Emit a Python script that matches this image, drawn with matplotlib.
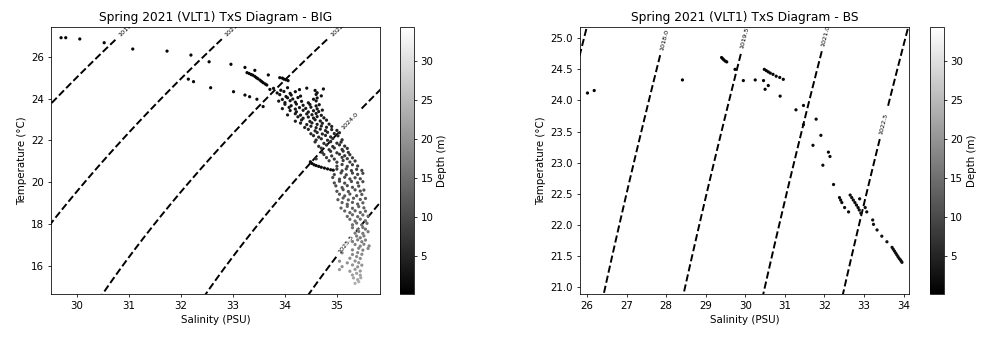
import numpy as np
import matplotlib
matplotlib.use("Agg")
import matplotlib.pyplot as plt

plt.rcParams["font.size"] = 10.5

# --- BIG station: surface points (salinity, temperature, depth)
big_surf_sal = [29.69, 29.78, 30.05, 30.52, 31.07, 31.73, 32.19, 32.54, 32.14, 32.24,
                32.57, 32.96, 33.01, 33.23, 33.23, 33.32, 33.42, 33.68, 33.46, 33.58,
                33.71, 33.27, 33.31, 33.35, 33.38, 33.42, 33.45, 33.48, 33.52, 33.55,
                33.58, 33.62, 33.65, 33.90, 33.95, 33.98, 34.02, 34.06]
big_surf_temp = [26.91, 26.91, 26.85, 26.67, 26.37, 26.27, 26.08, 25.76, 24.93, 24.81,
                 24.52, 25.64, 24.33, 25.49, 24.17, 24.09, 25.35, 25.13, 23.97, 23.62,
                 24.44, 25.24, 25.20, 25.15, 25.12, 25.06, 25.00, 24.95, 24.88, 24.82,
                 24.76, 24.70, 24.65, 25.00, 24.98, 24.93, 24.90, 24.86]
big_surf_depth = [0.5, 0.5, 0.6, 0.7, 0.8, 0.8, 0.9, 1.0, 1.0, 1.1,
                  1.2, 0.9, 1.3, 1.0, 1.4, 1.4, 1.0, 1.1, 1.5, 1.6,
                  1.3, 1.0, 1.0, 1.1, 1.1, 1.1, 1.2, 1.2, 1.2, 1.3,
                  1.3, 1.3, 1.4, 1.2, 1.2, 1.3, 1.3, 1.3]

# black near-surface curve around 21 degC
big_curve_sal = [34.49, 34.52, 34.56, 34.60, 34.65, 34.70, 34.76, 34.82, 34.88, 34.93]
big_curve_temp = [20.98, 20.90, 20.84, 20.80, 20.76, 20.72, 20.68, 20.64, 20.60, 20.58]
big_curve_depth = [1.5, 1.5, 1.6, 1.6, 1.7, 1.7, 1.8, 1.8, 1.9, 2.0]

# main cloud, one row per temperature band: salinities, temperatures, depth shade of the band
big_row_sal = [
    [33.78, 33.92, 34.05, 34.28, 34.42, 34.58, 34.74],
    [33.85, 33.98, 34.10, 34.20, 34.62],
    [33.90, 34.02, 34.12, 34.30, 34.60, 34.70],
    [33.95, 34.05, 34.15, 34.25, 34.55, 34.62],
    [33.88, 34.00, 34.10, 34.20, 34.32, 34.45, 34.60],
    [34.00, 34.12, 34.22, 34.35, 34.48, 34.60, 34.66],
    [33.95, 34.08, 34.20, 34.28, 34.40, 34.50, 34.62],
    [34.10, 34.22, 34.35, 34.45, 34.55, 34.65, 34.72],
    [34.05, 34.20, 34.30, 34.42, 34.52, 34.60, 34.70],
    [34.25, 34.35, 34.45, 34.55, 34.62, 34.75],
    [34.20, 34.32, 34.48, 34.58, 34.68, 34.80],
    [34.30, 34.42, 34.52, 34.62, 34.72, 34.85],
    [34.38, 34.50, 34.60, 34.70, 34.80, 34.90],
    [34.45, 34.58, 34.68, 34.78, 34.90, 35.00],
    [34.50, 34.62, 34.72, 34.82, 34.95, 35.05],
    [34.55, 34.65, 34.78, 34.88, 35.02],
    [34.60, 34.70, 34.82, 34.92, 35.10],
    [34.58, 34.75, 34.88, 35.00, 35.08],
    [34.65, 34.80, 34.92, 35.05, 35.15],
    [34.70, 34.85, 34.95, 35.10, 35.20],
    [34.72, 34.88, 35.00, 35.12, 35.22],
    [34.75, 34.90, 35.05, 35.15, 35.25],
    [34.60, 34.80, 34.95, 35.10, 35.20, 35.30],
    [34.85, 35.00, 35.12, 35.25, 35.35],
    [35.00, 35.10, 35.20, 35.30, 35.40],
    [35.00, 35.10, 35.18, 35.28, 35.38, 35.48],
    [34.95, 35.08, 35.18, 35.30, 35.40, 35.50],
    [34.92, 35.05, 35.15, 35.25, 35.35, 35.45],
    [34.95, 35.05, 35.15, 35.28, 35.40, 35.50],
    [34.98, 35.10, 35.20, 35.30, 35.42],
    [35.00, 35.12, 35.22, 35.35, 35.45, 35.52],
    [35.05, 35.15, 35.25, 35.38, 35.48],
    [35.02, 35.12, 35.22, 35.32, 35.45, 35.55],
    [35.10, 35.20, 35.30, 35.40, 35.50],
    [35.08, 35.20, 35.30, 35.42, 35.52],
    [35.15, 35.25, 35.35, 35.45, 35.55],
    [35.20, 35.30, 35.40, 35.50, 35.60],
    [35.25, 35.35, 35.45, 35.55],
    [35.30, 35.38, 35.48, 35.58],
    [35.30, 35.40, 35.50, 35.55],
    [35.35, 35.42, 35.50, 35.60],
    [35.38, 35.45, 35.52],
    [35.30, 35.40, 35.48, 35.55],
    [35.35, 35.45, 35.52, 35.62],
    [35.30, 35.42, 35.50, 35.60],
    [35.10, 35.30, 35.40, 35.48],
    [35.25, 35.38, 35.45],
    [35.05, 35.20, 35.35, 35.42],
    [35.10, 35.30, 35.40, 35.48],
    [35.05, 35.25, 35.35, 35.45],
    [35.30, 35.38, 35.45],
    [35.32, 35.40, 35.46],
    [35.35, 35.42],
]
big_row_temp = [
    [24.49, 24.40, 24.52, 24.43, 24.50, 24.39, 24.46],
    [24.27, 24.34, 24.25, 24.33, 24.28],
    [24.19, 24.10, 24.17, 24.12, 24.20, 24.13],
    [23.96, 24.04, 23.98, 24.05, 23.97, 24.03],
    [23.88, 23.81, 23.90, 23.83, 23.87, 23.80, 23.89],
    [23.73, 23.66, 23.74, 23.68, 23.72, 23.65, 23.71],
    [23.52, 23.58, 23.50, 23.57, 23.53, 23.59, 23.51],
    [23.43, 23.37, 23.44, 23.36, 23.42, 23.38, 23.45],
    [23.22, 23.28, 23.21, 23.27, 23.23, 23.29, 23.20],
    [23.13, 23.06, 23.12, 23.07, 23.14, 23.08],
    [22.92, 22.98, 22.91, 22.99, 22.93, 22.97],
    [22.83, 22.76, 22.84, 22.77, 22.82, 22.78],
    [22.62, 22.68, 22.61, 22.69, 22.63, 22.67],
    [22.53, 22.46, 22.54, 22.47, 22.52, 22.48],
    [22.32, 22.38, 22.31, 22.39, 22.33, 22.37],
    [22.23, 22.16, 22.24, 22.17, 22.22],
    [22.02, 22.08, 22.01, 22.09, 22.03],
    [21.93, 21.86, 21.94, 21.87, 21.92],
    [21.72, 21.78, 21.71, 21.79, 21.73],
    [21.63, 21.56, 21.64, 21.57, 21.62],
    [21.42, 21.48, 21.41, 21.49, 21.43],
    [21.33, 21.26, 21.34, 21.27, 21.32],
    [21.12, 21.18, 21.11, 21.19, 21.13, 21.17],
    [21.03, 20.96, 21.04, 20.97, 21.02],
    [20.77, 20.85, 20.76, 20.84, 20.78],
    [20.63, 20.55, 20.64, 20.56, 20.62, 20.57],
    [20.37, 20.45, 20.36, 20.44, 20.38, 20.43],
    [20.23, 20.15, 20.24, 20.16, 20.22, 20.17],
    [19.97, 20.05, 19.96, 20.04, 19.98, 20.03],
    [19.83, 19.75, 19.84, 19.76, 19.82],
    [19.57, 19.65, 19.56, 19.64, 19.58, 19.63],
    [19.43, 19.35, 19.44, 19.36, 19.42],
    [19.17, 19.25, 19.16, 19.24, 19.18, 19.23],
    [19.03, 18.95, 19.04, 18.96, 19.02],
    [18.77, 18.85, 18.76, 18.84, 18.78],
    [18.63, 18.55, 18.64, 18.56, 18.62],
    [18.37, 18.45, 18.36, 18.44, 18.38],
    [18.23, 18.15, 18.24, 18.16],
    [17.97, 18.05, 17.96, 18.04],
    [17.83, 17.75, 17.84, 17.76],
    [17.57, 17.65, 17.56, 17.64],
    [17.43, 17.35, 17.44],
    [17.17, 17.25, 17.16, 17.24],
    [17.03, 16.95, 17.04, 16.96],
    [16.77, 16.85, 16.76, 16.84],
    [16.63, 16.55, 16.64, 16.56],
    [16.37, 16.45, 16.36],
    [16.23, 16.15, 16.24, 16.16],
    [15.97, 16.05, 15.96, 16.04],
    [15.83, 15.75, 15.84, 15.76],
    [15.57, 15.65, 15.56],
    [15.43, 15.35, 15.44],
    [15.17, 15.25],
]
big_row_depth = [2.0, 2.2, 2.4, 2.6, 2.8, 3.0, 3.2, 3.4, 3.6, 3.8,
                 4.0, 4.3, 4.6, 5.0, 5.3, 5.6, 6.0, 6.3, 6.6, 7.0,
                 7.3, 7.6, 8.0, 8.3, 8.7, 9.0, 9.4, 9.8, 10.2, 10.6,
                 11.0, 11.5, 12.0, 12.5, 13.0, 13.5, 14.0, 14.5, 15.0, 15.5,
                 16.0, 16.5, 17.0, 17.5, 18.0, 18.5, 19.0, 19.5, 20.0, 20.5,
                 21.5, 22.5, 23.5]

# --- BS station
bs_sal = [26.01, 26.18, 28.41, 29.40, 29.43, 29.46, 29.50, 29.53, 29.74, 29.95,
          30.25, 30.46, 30.50, 30.58, 30.48, 30.53, 30.58, 30.63, 30.70, 30.78,
          30.87, 30.96, 30.88, 31.28, 31.47, 31.47, 31.79, 31.91, 31.71, 32.10,
          32.14, 31.96, 32.23, 32.38, 32.41, 32.44, 32.51, 32.61, 32.65, 32.69,
          32.73, 32.77, 32.81, 32.85, 32.88, 32.92, 32.89, 33.03, 33.07, 33.22,
          33.24, 33.33, 33.45, 33.58, 33.71, 33.74, 33.77, 33.80, 33.83, 33.86,
          33.89, 33.92, 33.94, 33.96]
bs_temp = [24.12, 24.16, 24.33, 24.69, 24.67, 24.65, 24.63, 24.62, 24.50, 24.32,
           24.33, 24.32, 24.18, 24.24, 24.50, 24.48, 24.46, 24.44, 24.42, 24.39,
           24.37, 24.34, 24.07, 23.85, 23.92, 23.61, 23.70, 23.44, 23.28, 23.17,
           23.10, 22.96, 22.65, 22.44, 22.40, 22.36, 22.28, 22.21, 22.48, 22.44,
           22.40, 22.36, 22.32, 22.28, 22.24, 22.19, 22.42, 22.28, 22.21, 22.08,
           22.01, 21.92, 21.82, 21.73, 21.64, 21.61, 21.58, 21.55, 21.52, 21.49,
           21.46, 21.44, 21.42, 21.40]
bs_depth = [0.5, 0.5, 0.6, 0.6, 0.6, 0.7, 0.7, 0.7, 0.8, 0.8,
            0.8, 0.9, 0.9, 0.9, 0.8, 0.8, 0.9, 0.9, 0.9, 1.0,
            1.0, 1.0, 1.0, 1.1, 1.1, 1.2, 1.2, 1.3, 1.3, 1.4,
            1.4, 1.4, 1.5, 1.6, 1.6, 1.6, 1.7, 1.7, 1.6, 1.6,
            1.7, 1.7, 1.7, 1.8, 1.8, 1.8, 1.7, 1.8, 1.8, 1.9,
            1.9, 2.0, 2.0, 2.1, 2.2, 2.2, 2.2, 2.3, 2.3, 2.3,
            2.4, 2.4, 2.4, 2.5]

depth_min, depth_max = 0.1, 34.3
dens_levels = np.arange(1015.0, 1028.0, 1.5)


def dens0(S, T):
    # UNESCO 1983 density of seawater at p=0, with a small salinity correction
    # so it lines up with the TEOS-10 style isopycnals of the original
    S = S - 0.02 * (S - 26.0)
    rw = (999.842594 + 6.793952e-2 * T - 9.095290e-3 * T**2 + 1.001685e-4 * T**3
          - 1.120083e-6 * T**4 + 6.536332e-9 * T**5)
    A = 8.24493e-1 - 4.0899e-3 * T + 7.6438e-5 * T**2 - 8.2467e-7 * T**3 + 5.3875e-9 * T**4
    B = -5.72466e-3 + 1.0227e-4 * T - 1.6546e-6 * T**2
    C = 4.8314e-4
    return rw + A * S + B * S**1.5 + C * S**2


big_sal = list(big_surf_sal) + list(big_curve_sal)
big_temp = list(big_surf_temp) + list(big_curve_temp)
big_depth = list(big_surf_depth) + list(big_curve_depth)
for srow, trow, d in zip(big_row_sal, big_row_temp, big_row_depth):
    big_sal += srow
    big_temp += trow
    big_depth += [d] * len(srow)

dpi = 70
fig = plt.figure(figsize=(986 / dpi, 338 / dpi), dpi=dpi)

panels = [
    dict(sal=big_sal, temp=big_temp, depth=big_depth, name="BIG",
         ax=[0.0514, 0.130, 0.334, 0.790], cax=[0.4057, 0.130, 0.0139, 0.790],
         xlim=(29.49, 35.83), ylim=(14.66, 27.42),
         grid_s=(28.5, 37.0), grid_t=(13.5, 28.5),
         labels=[(30.88, 27.56), (32.94, 27.56), (34.96, 27.56), (35.18, 23.07), (35.15, 17.10)]),
    dict(sal=bs_sal, temp=bs_temp, depth=bs_depth, name="BS",
         ax=[0.588, 0.130, 0.334, 0.790], cax=[0.943, 0.130, 0.0139, 0.790],
         xlim=(25.815, 34.14), ylim=(20.89, 25.18),
         grid_s=(25.0, 35.0), grid_t=(20.5, 26.0),
         labels=[(27.94, 24.98), (29.99, 25.0), (32.05, 25.04), (33.44, 23.64)]),
]

for p in panels:
    ax = fig.add_axes(p["ax"])
    cax = fig.add_axes(p["cax"])
    ss = np.linspace(p["grid_s"][0], p["grid_s"][1], 200)
    tt = np.linspace(p["grid_t"][0], p["grid_t"][1], 200)
    SS, TT = np.meshgrid(ss, tt)
    cs = ax.contour(SS, TT, dens0(SS, TT), levels=dens_levels, colors="k",
                    linestyles="dashed", linewidths=2.0)
    sc = ax.scatter(p["sal"], p["temp"], c=p["depth"], cmap="gray", s=11,
                    vmin=depth_min, vmax=depth_max, edgecolors="none", zorder=3)
    ax.set_xlim(*p["xlim"])
    ax.set_ylim(*p["ylim"])
    ax.clabel(cs, fmt="%1.1f", fontsize=6.5, manual=p["labels"], inline=True)
    ax.set_xlabel("Salinity (PSU)")
    ax.set_ylabel("Temperature (°C)")
    ax.set_title("Spring 2021 (VLT1) TxS Diagram - " + p["name"])
    cb = fig.colorbar(sc, cax=cax)
    cb.set_label("Depth (m)")

fig.savefig("out.png", dpi=dpi)
